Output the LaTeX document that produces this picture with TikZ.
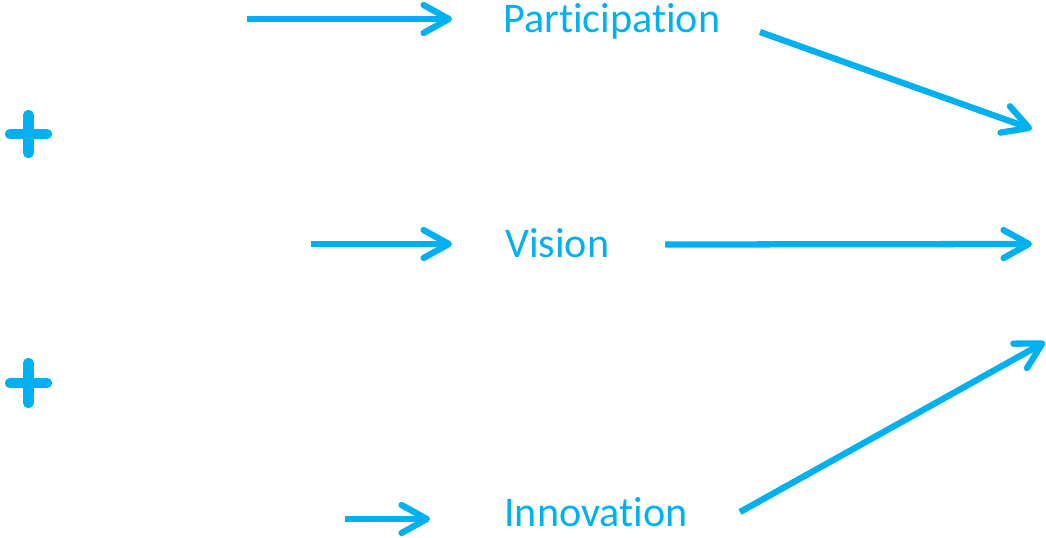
\documentclass[tikz,border=0pt]{standalone}
\usepackage{fontspec}
\setmainfont{Carlito}[Ligatures=NoCommon]
\usetikzlibrary{arrows.meta,calc}
\definecolor{skyblue}{RGB}{0,176,240}
\tikzset{flow/.style={draw=skyblue, line width=4.7pt, -{Straight Barb[length=19pt,width=21pt,round]}},
    word/.style={anchor=base west, inner sep=0pt, text=skyblue, font=\fontsize{31.6}{38}\selectfont},
    plus/.style={draw=skyblue, line width=7.8pt, line cap=round}}

\begin{document}
\begin{tikzpicture}[x=0.75pt,y=0.75pt,yscale=-1,xscale=1]
\useasboundingbox (0,0) rectangle (1046,537);

% Text Node
\node[word] (part) at (503,32) {Participation};
% Text Node
\node[word] (vis) at (505,257) {Vision};
% Text Node
\node[word] (inno) at (504,526) {Innovation};

%Shape: Plus signs
\coordinate (p1) at (28.5,134);
\coordinate (p2) at (28.5,383);
\draw[plus] ($(p1)+(-18.5,0)$) -- ($(p1)+(18.5,0)$) ($(p1)+(0,-19)$) -- ($(p1)+(0,19)$);
\draw[plus] ($(p2)+(-18.5,0)$) -- ($(p2)+(18.5,0)$) ($(p2)+(0,-20)$) -- ($(p2)+(0,20)$);

%Straight Lines: into the words
\coordinate (a1) at (247,19);   \coordinate (b1) at (452,19);
\coordinate (a2) at (311,244);  \coordinate (b2) at (452,244);
\coordinate (a3) at (345,519);  \coordinate (b3) at (430,519);
\draw[flow] (a1) -- (b1);
\draw[flow] (a2) -- (b2);
\draw[flow] (a3) -- (b3);

%Straight Lines: out of the words
\coordinate (c1) at (760,32);   \coordinate (d1) at (1032,129);
\coordinate (c2) at (665,244.5);\coordinate (d2) at (1032,244);
\coordinate (c3) at (740,512);  \coordinate (d3) at (1045,342);
\draw[flow] (c1) -- (d1);
\draw[flow] (c2) -- (d2);
\draw[flow] (c3) -- (d3);

\end{tikzpicture}
\end{document}
